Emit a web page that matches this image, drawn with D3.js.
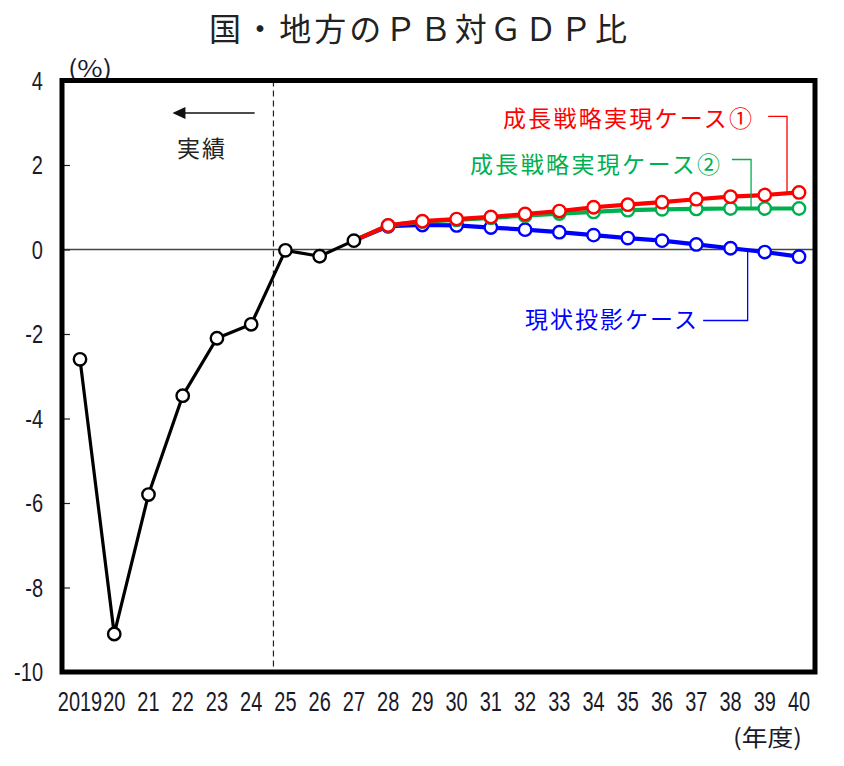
<!DOCTYPE html>
<html><head><meta charset="utf-8">
<script src="https://cdn.jsdelivr.net/npm/d3@7"></script>
<style>body{margin:0;background:#fff}</style>
</head><body>
<script>
const years = d3.range(2019, 2041);
const xTickLabels = ["2019","20","21","22","23","24","25","26","27","28","29","30","31","32","33","34","35","36","37","38","39","40"];
const yTicks = [4,2,0,-2,-4,-6,-8,-10];
const actualYears = [2019,2020,2021,2022,2023,2024,2025,2026,2027];
const actual = [-2.6,-9.1,-5.8,-3.46,-2.1,-1.77,-0.02,-0.16,0.21];
const projYears = [2027,2028,2029,2030,2031,2032,2033,2034,2035,2036,2037,2038,2039,2040];
const case1 = [0.21,0.57,0.67,0.72,0.77,0.84,0.91,1.0,1.06,1.12,1.19,1.25,1.29,1.35];
const case2 = [0.21,0.57,0.66,0.70,0.75,0.80,0.85,0.89,0.93,0.95,0.96,0.97,0.97,0.97];
const baseline = [0.21,0.55,0.58,0.57,0.52,0.47,0.41,0.34,0.27,0.21,0.12,0.03,-0.06,-0.17];
const title = "国・地方のＰＢ対ＧＤＰ比";
const labels = {c1:"成長戦略実現ケース①", c2:"成長戦略実現ケース②", base:"現状投影ケース", actual:"実績", unit:"(%)", xunit:"(年度)"};

const W=844,H=766;
const svg=d3.select("body").append("svg").attr("width",W).attr("height",H);
const x=d3.scaleLinear().domain([2019,2040]).range([80,799]);
const y=d3.scaleLinear().domain([-10,4]).range([672,80.5]);
const jp='"Noto Sans CJK JP","Noto Sans",sans-serif';
const num='"Liberation Sans","DejaVu Sans",sans-serif';

// title
svg.append("text").attr("x",209).attr("y",41).attr("textLength",418).attr("lengthAdjust","spacing")
  .style("font-family",jp).style("font-size","32px").attr("fill","#222").text(title);

// zero line
svg.append("line").attr("x1",62).attr("x2",815).attr("y1",y(0)).attr("y2",y(0)).attr("stroke","#444").attr("stroke-width",1.5);

// dashed divider
svg.append("line").attr("x1",x(2024.65)).attr("x2",x(2024.65)).attr("y1",y(4)).attr("y2",y(-10))
  .attr("stroke","#222").attr("stroke-width",1.2).attr("stroke-dasharray","6,4");

// y ticks
const yAxis=d3.axisLeft(y).tickValues(yTicks).tickSize(-8).tickFormat("");
svg.append("g").attr("transform","translate(62,0)").call(yAxis).call(g=>{g.select(".domain").remove();g.selectAll("line").attr("stroke","#222").attr("stroke-width",1.2);});

// y labels (condensed)
yTicks.forEach(v=>{
  svg.append("text").attr("transform",`translate(43,${y(v)+9}) scale(0.8,1)`).attr("text-anchor","end")
    .style("font-family",num).style("font-size","25px").attr("fill","#1a1a2a").text(v);
});
// x labels
years.forEach((yr,i)=>{
  svg.append("text").attr("transform",`translate(${x(yr)},711) scale(0.74,1)`).attr("text-anchor","middle")
    .style("font-family",num).style("font-size","27px").attr("fill","#1a1a2a").text(xTickLabels[i]);
});
svg.append("text").attr("x",733).attr("y",746).attr("textLength",69).attr("lengthAdjust","spacingAndGlyphs")
  .style("font-family",jp).style("font-size","23px").attr("fill","#1a1a2a").text(labels.xunit);
svg.append("text").attr("x",68).attr("y",77).attr("textLength",44).attr("lengthAdjust","spacingAndGlyphs")
  .style("font-family",jp).style("font-size","23px").attr("fill","#1a1a2a").text(labels.unit);

// arrow + 実績
svg.append("line").attr("x1",x(2024.1)).attr("x2",x(2021.95)).attr("y1",113).attr("y2",113).attr("stroke","#111").attr("stroke-width",1.5);
const ax=x(2021.7);
svg.append("path").attr("d",`M${ax},113 L${ax+13},107 L${ax+13},119 Z`).attr("fill","#111");
svg.append("text").attr("x",177).attr("y",157).attr("textLength",48).attr("lengthAdjust","spacing")
  .style("font-family",jp).style("font-size","23px").attr("fill","#222").text(labels.actual);

// series
const line=d3.line().x(d=>x(d[0])).y(d=>y(d[1]));
function series(ys,vals,color,w,skipFirst){
  const pts=ys.map((yr,i)=>[yr,vals[i]]);
  svg.append("path").datum(pts).attr("d",line).attr("fill","none").attr("stroke",color).attr("stroke-width",w).attr("stroke-linejoin","round");
  svg.append("g").selectAll("circle").data(skipFirst?pts.slice(1):pts).join("circle")
    .attr("cx",d=>x(d[0])).attr("cy",d=>y(d[1])).attr("r",6.2).attr("fill","#fff").attr("stroke",color).attr("stroke-width",2.4);
}
series(projYears,baseline,"#0000ff",4.2,true);
series(projYears,case2,"#00b050",4.2,true);
series(projYears,case1,"#ff0000",4.2,true);
series(actualYears,actual,"#000",3.2,false);

// leaders & labels
function leader(x0,x1,ty,ly,color){
  svg.append("path").attr("d",`M${x(x0)},${y(ty)} H${x(x1)} V${y(ly)}`).attr("fill","none").attr("stroke",color).attr("stroke-width",1.3);
}
leader(2039.1,2039.65,3.15,1.32,"#ff0000");
leader(2038.04,2038.6,2.13,0.97,"#00b050");
leader(2037.2,2038.5,-1.68,0.0,"#0000ff");
svg.append("text").attr("x",503).attr("y",127).attr("textLength",249).attr("lengthAdjust","spacing")
  .style("font-family",jp).style("font-size","23px").attr("fill","#ff0000").text(labels.c1);
svg.append("text").attr("x",470).attr("y",173).attr("textLength",250).attr("lengthAdjust","spacing")
  .style("font-family",jp).style("font-size","23px").attr("fill","#00b050").text(labels.c2);
svg.append("text").attr("x",525).attr("y",328).attr("textLength",172).attr("lengthAdjust","spacing")
  .style("font-family",jp).style("font-size","23px").attr("fill","#0000ff").text(labels.base);

// frame
svg.append("rect").attr("x",62).attr("y",80.5).attr("width",753).attr("height",591.5).attr("fill","none").attr("stroke","#000").attr("stroke-width",5);
</script>
</body></html>
